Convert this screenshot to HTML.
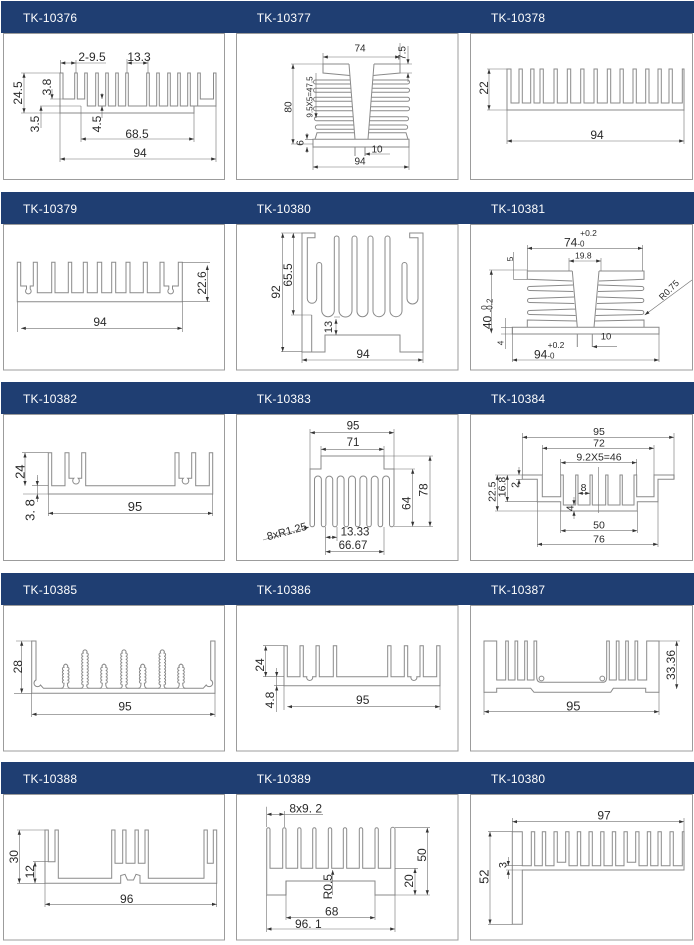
<!DOCTYPE html>
<html><head><meta charset="utf-8"><style>
html,body{margin:0;padding:0;background:#fff;}
svg{display:block}
.s{fill:none;stroke:#8a8a8a;stroke-width:1}
.w{fill:#fff;stroke:#8a8a8a;stroke-width:1}
.d{fill:none;stroke:#707070;stroke-width:.6}
.a{fill:none;stroke:#707070;stroke-width:.6;marker-start:url(#m);marker-end:url(#m)}
.e{fill:none;stroke:#707070;stroke-width:.6;marker-end:url(#m)}
text{font-family:"Liberation Sans",sans-serif;fill:#2a2a2a}
.l{font-size:12px;text-anchor:middle;dominant-baseline:central}
.k{font-size:13px;text-anchor:middle;dominant-baseline:central}
.p{font-size:10.5px;text-anchor:middle;dominant-baseline:central}
.m{font-size:10px;text-anchor:middle;dominant-baseline:central}
.n{font-size:8.5px;text-anchor:middle;dominant-baseline:central}
.h{font-size:12px;fill:#fff;letter-spacing:.2px}
.bx{fill:#fff;stroke:#9c9c9c;stroke-width:1}
.hd{fill:#1f3e72}
</style></head><body>
<svg width="694" height="945" viewBox="0 0 694 945" xmlns="http://www.w3.org/2000/svg">
<defs><marker id="m" viewBox="0 0 6 4" refX="6" refY="2" markerWidth="5" markerHeight="3.2" markerUnits="userSpaceOnUse" orient="auto-start-reverse"><path d="M0,0L6,2L0,4z" fill="#333"/></marker></defs>
<rect width="694" height="945" fill="#fff"/>

<!-- boxes -->
<rect class="bx" x="3.5" y="33.5" width="221" height="146"/>
<rect class="bx" x="236.5" y="33.5" width="221.5" height="146"/>
<rect class="bx" x="470.5" y="33.5" width="222" height="146"/>
<rect class="bx" x="3.5" y="224.5" width="221" height="145.5"/>
<rect class="bx" x="236.5" y="224.5" width="221.5" height="145.5"/>
<rect class="bx" x="470.5" y="224.5" width="222" height="145.5"/>
<rect class="bx" x="3.5" y="414.5" width="221" height="146"/>
<rect class="bx" x="236.5" y="414.5" width="221.5" height="146"/>
<rect class="bx" x="470.5" y="414.5" width="222" height="146"/>
<rect class="bx" x="3.5" y="605.5" width="221" height="145.5"/>
<rect class="bx" x="236.5" y="605.5" width="221.5" height="145.5"/>
<rect class="bx" x="470.5" y="605.5" width="222" height="145.5"/>
<rect class="bx" x="3.5" y="794.5" width="221" height="145.5"/>
<rect class="bx" x="236.5" y="794.5" width="221.5" height="145.5"/>
<rect class="bx" x="470.5" y="794.5" width="222" height="145.5"/>

<!-- headers -->
<rect class="hd" x="1" y="1" width="693" height="32"/>
<rect class="hd" x="1" y="192" width="693" height="32"/>
<rect class="hd" x="1" y="382" width="693" height="32"/>
<rect class="hd" x="1" y="573" width="693" height="32"/>
<rect class="hd" x="1" y="762" width="693" height="32"/>
<text class="h" x="23" y="22">TK-10376</text>
<text class="h" x="256.7" y="22">TK-10377</text>
<text class="h" x="491" y="22">TK-10378</text>
<text class="h" x="23" y="213">TK-10379</text>
<text class="h" x="256.7" y="213">TK-10380</text>
<text class="h" x="491" y="213">TK-10381</text>
<text class="h" x="23" y="403">TK-10382</text>
<text class="h" x="256.7" y="403">TK-10383</text>
<text class="h" x="491" y="403">TK-10384</text>
<text class="h" x="23" y="594">TK-10385</text>
<text class="h" x="256.7" y="594">TK-10386</text>
<text class="h" x="491" y="594">TK-10387</text>
<text class="h" x="23" y="783">TK-10388</text>
<text class="h" x="256.7" y="783">TK-10389</text>
<text class="h" x="491" y="783">TK-10380</text>

<!-- Cell 1 TK-10376 -->
<path class="s" d="M60,113 V73 H63 V99 H74.7 V73 H77.3 V99 H84.7 V73 H87.3 V106 H95.7 V73 H98.3 V106 H105.7 V73 H108.3 V106 H115.7 V73 H118.3 V106 H125.7 V73 H128.3 V106 H146.7 V73 H149.3 V106 H156.7 V73 H159.3 V106 H167.7 V73 H170.3 V106 H177.7 V73 H180.3 V106 H187.7 V73 H190.3 V106 H197.7 V73 H200.3 V99 H213.5 V73 H216 V106 H194 V113 Z"/>
<path class="d" d="M21,73H60 M21,113H60 M50,99H63 M40,106H81 M81,106V142 M194,113V142 M60,113V162 M216,106V162 M60.5,60V73 M76,60V73 M76,63H106 M127,59V73 M148,59V73"/>
<path class="a" d="M24,73V113"/>
<path class="e" d="M52,89V99"/>
<path class="e" d="M41,128V106"/>
<path class="e" d="M102,93V99"/>
<path class="e" d="M102,118V106"/>
<path class="a" d="M60.5,63H76"/>
<path class="a" d="M127,63H148"/>
<path class="a" d="M81,139H194"/>
<path class="a" d="M60,159H216"/>
<text class="l" transform="translate(18 93) rotate(-90)">24.5</text>
<text class="l" transform="translate(47 87) rotate(-90)">3.8</text>
<text class="l" transform="translate(35 124) rotate(-90)">3.5</text>
<text class="l" transform="translate(97 124) rotate(-90)">4.5</text>
<text class="l" x="92" y="57">2-9.5</text>
<text class="l" x="139" y="57">13.3</text>
<text class="l" x="137" y="134">68.5</text>
<text class="l" x="140" y="153">94</text>

<!-- Cell 2 TK-10377 -->
<path class="s" d="M349,64H323V73L349.9,75.5 M349,64L355,139.3 M350.3,80H315.5A2,2 0 0 0 315.5,84H350.6 M350.9,88.3H315.5A2,2 0 0 0 315.5,92.3H351.3 M351.7,97.3H315.5A2,2 0 0 0 315.5,101.3H352 M352.4,106.7H315.5A2,2 0 0 0 315.5,110.7H352.7 M353.2,116.7H316.5A2,2 0 0 0 316.5,120.7H353.5 M353.9,125H317.5A2.15,2.15 0 0 0 317.5,129.3H354.2 M354.5,132.7H317L315,139.3"/>
<path class="s" d="M374,64H400V73L373.1,75.5 M374,64L368,139.3 M372.7,80H407.5A2,2 0 0 1 407.5,84H372.4 M372.1,88.3H407.5A2,2 0 0 1 407.5,92.3H371.7 M371.3,97.3H407.5A2,2 0 0 1 407.5,101.3H371 M370.6,106.7H407.5A2,2 0 0 1 407.5,110.7H370.3 M369.8,116.7H406.5A2,2 0 0 1 406.5,120.7H369.5 M369.1,125H405.5A2.15,2.15 0 0 1 405.5,129.3H368.8 M368.5,132.7H406L408,139.3"/>
<path class="s" d="M313,139.3H409V147H313Z M355,147V156 M365,147V156"/>
<path class="d" d="M323,53V64 M400,43V64 M400,64H412 M400,73H412 M291,64H323 M291,144H313 M305,139.3H313 M313,147V170 M409,147V170"/>
<path class="a" d="M323,57H400"/>
<path class="e" d="M408,46V64"/>
<path class="e" d="M408,82V73"/>
<path class="a" d="M293,64V144"/>
<path class="e" d="M316,73V118"/>
<path class="e" d="M307,133V139.3"/>
<path class="e" d="M307,153V147"/>
<path class="a" d="M313,167H409"/>
<path class="e" d="M390,154H365"/>
<text class="m" x="360" y="49">74</text>
<text class="m" transform="translate(403 53) rotate(-90)">7.5</text>
<text class="m" transform="translate(289 107) rotate(-90)">80</text>
<text class="n" style="font-size:8px" transform="translate(310 97) rotate(-90)">9.5X5=47.5</text>
<text class="m" transform="translate(301 143) rotate(-90)">6</text>
<text class="m" x="377" y="150">10</text>
<text class="m" x="360" y="162">94</text>

<!-- Cell 3 TK-10378 -->
<path class="s" d="M507,110 V69 H511 V103 H519 V69 H522.3 V103 H530.7 V69 H534 V103 H540 V69 H543.3 V103 H554 V69 H557.3 V103 H567.3 V69 H570.7 V103 H580.7 V69 H584 V103 H594 V69 H597.3 V103 H607.3 V69 H610.7 V103 H620 V69 H623.3 V103 H633 V69 H636.3 V103 H645.7 V69 H649 V103 H658 V69 H661.3 V103 H669 V69 H672.3 V103 H682.3 V69 H684 V110 Z"/>
<path class="d" d="M487,69H507 M487,110H507 M507,110V144 M684,110V144"/>
<path class="a" d="M489,69V110"/>
<path class="a" d="M507,141H684"/>
<text class="l" transform="translate(484 88) rotate(-90)">22</text>
<text class="l" x="597" y="135">94</text>

<!-- Cell 4 TK-10379 -->
<path class="s" d="M17.3,301.7 V262.3 H20.7 V286 H26.5 V289 A2.8,2.8 0 1 0 30.2,289 V286 H33.3 V262.3 H37.3 V292.7 H51.7 V262.3 H55 V292.7 H68.3 V262.3 H71.7 V292.7 H83.3 V262.3 H87.3 V292.7 H97.3 V262.3 H101.7 V292.7 H111.7 V262.3 H115.7 V292.7 H126 V262.3 H130 V292.7 H143.3 V262.3 H147.3 V292.7 H160 V262.3 H164 V286 H168.8 V289 A2.8,2.8 0 1 0 172.5,289 V286 H178.3 V262.3 H182.3 V301.7 Z"/>
<path class="d" d="M182.3,262.3H210 M182.3,301.7H210 M17.3,301.7V332 M182.3,301.7V332"/>
<path class="a" d="M207.3,265.3V301.7"/>
<path class="a" d="M21,328.3H182.3"/>
<text class="l" transform="translate(202 283) rotate(-90)">22.6</text>
<text class="l" x="100" y="322">94</text>

<!-- Cell 5 TK-10380 -->
<path class="s" d="M302,352 V233 H315 V237.7 H307.3 V298.6 A4.7,4.7 0 0 0 316.7,298.6 V265 A2.5,2.5 0 0 1 321.7,265 V310.4 A6.3,6.3 0 0 0 334.3,310.4 V238.3 A2.35,2.35 0 0 1 339,238.3 V310.5 A6.5,6.5 0 0 0 352,310.5 V238.5 A2.5,2.5 0 0 1 357,238.5 V311.2 A5.5,5.5 0 0 0 368,311.2 V238.5 A2.5,2.5 0 0 1 373,238.5 V310.7 A6,6 0 0 0 385,310.7 V238.5 A2.5,2.5 0 0 1 390,238.5 V310.7 A6,6 0 0 0 402,310.7 V265 A2.5,2.5 0 0 1 407,265 V298.5 A5.5,5.5 0 0 0 418,298.5 V237.7 H409.7 V233 H423 V352 H400 V335 H325 V352 Z M311.7,315V352"/>
<path class="d" d="M281,233H302 M281,351.7H302 M291,315H311.7 M334,317H340 M302,352V363 M423,352V363"/>
<path class="a" d="M282.7,233V351.7"/>
<path class="a" d="M293.3,233V315"/>
<path class="a" d="M336,319V335"/>
<path class="a" d="M302,360H423"/>
<text class="l" transform="translate(276 292) rotate(-90)">92</text>
<text class="l" transform="translate(288 275) rotate(-90)">65.5</text>
<text class="l" style="font-size:11px" transform="translate(329 327) rotate(-90)">13</text>
<text class="l" x="363" y="354">94</text>

<!-- Cell 6 TK-10381 -->
<path class="s" d="M572.3,271H527.3V279.3L572.3,281 M572.3,271L577.3,327.3 M573,285L529.5,286.5A2,2 0 0 0 529.5,290.5L573.3,291.5 M574,297L529.5,298.5A2,2 0 0 0 529.5,302.5L574.3,303.5 M575.3,309L529.5,310.5A2,2 0 0 0 529.5,314.5L575.6,315.5 M576.5,321L527.3,320V327.3"/>
<path class="s" d="M599,271H644V279.3L599,281 M599,271L594,327.3 M598.3,285L641.8,286.5A2,2 0 0 1 641.8,290.5L598,291.5 M597.3,297L641.8,298.5A2,2 0 0 1 641.8,302.5L597,303.5 M596,309L641.8,310.5A2,2 0 0 1 641.8,314.5L595.7,315.5 M594.8,321L644,320V327.3"/>
<path class="s" d="M512.3,327.3H659V334H512.3Z M577.3,334V347 M592.3,334V347"/>
<path class="d" d="M527.3,245V271 M642.7,245V271 M569,258V271 M601,258V271 M513.3,252V279.3 M513.3,279.3H527.3 M489,270H527.3 M501,327.3H512.3 M501,334H512.3 M512.3,327.3V362 M659,334V362 M505.3,318V349"/>
<path class="a" d="M527.3,248.3H642.7"/>
<path class="a" d="M569,261H601"/>
<path class="a" d="M491.3,270V333.3"/>
<path class="a" d="M512.3,360H659"/>
<path class="e" d="M617,346.7H592.3"/>
<path class="e" d="M692,280L644.7,315"/>
<text class="n" x="588.5" y="233">+0.2</text>
<text x="564" y="246.5" style="font-size:12px">74<tspan style="font-size:8px">-0</tspan></text>
<text class="n" x="583.3" y="255.3">19.8</text>
<text class="n" transform="translate(510 259) rotate(-90)">5</text>
<text class="l" transform="translate(487.5 322.5) rotate(-90)">40</text>
<text class="n" style="font-size:8px" transform="translate(490 305.5) rotate(-90)">-0.2</text>
<text class="n" style="font-size:8px" transform="translate(484.5 307.5) rotate(-90)">0</text>
<text class="n" transform="translate(500.5 343) rotate(-90)">4</text>
<text class="n" x="556" y="345">+0.2</text>
<text x="534" y="358.5" style="font-size:12px">94<tspan style="font-size:8px">-0</tspan></text>
<text class="n" style="font-size:9.5px" x="606" y="337">10</text>
<text class="n" style="font-size:9px" transform="translate(669 290) rotate(-45)">R0.75</text>

<!-- Cell 7 TK-10382 -->
<path class="s" d="M48.3,494 V452.7 H51.7 V485.7 H65 V452.7 H69 V478.3 H73.8 A3.3,3.3 0 1 0 78.2,478.3 H81.7 V452.7 H85.7 V485.7 H175 V452.7 H179 V478.3 H183.3 A3.3,3.3 0 1 0 187.7,478.3 H191.7 V452.7 H195.7 V485.7 H209.3 V452.7 H212.7 V494 Z"/>
<path class="d" d="M22,452.7H48.3 M32,485.7H48.3 M23,494H48.3 M37.3,475V502 M48.3,494V516 M212.7,494V516"/>
<path class="a" d="M25,452.7V485.7"/>
<path class="e" d="M37.3,477V485.7"/>
<path class="e" d="M37.3,502V494"/>
<path class="a" d="M48.3,513.3H212.7"/>
<text class="k" transform="translate(20 471.7) rotate(-90)">24</text>
<text class="k" transform="translate(30 510) rotate(-90)">3. 8</text>
<text class="k" x="135" y="506.5">95</text>

<!-- Cell 8 TK-10383 -->
<path class="s" d="M310,524.5 V469 H321 V456 H384 V469 H394 V524.5 A2.25,2.25 0 0 1 389.5,524.5 V479.4 A3.43,3.43 0 0 0 382.64,479.4 V524.5 A2.25,2.25 0 0 1 378.14,524.5 V479.4 A3.43,3.43 0 0 0 371.29,479.4 V524.5 A2.25,2.25 0 0 1 366.79,524.5 V479.4 A3.43,3.43 0 0 0 359.93,479.4 V524.5 A2.25,2.25 0 0 1 355.43,524.5 V479.4 A3.43,3.43 0 0 0 348.57,479.4 V524.5 A2.25,2.25 0 0 1 344.07,524.5 V479.4 A3.43,3.43 0 0 0 337.21,479.4 V524.5 A2.25,2.25 0 0 1 332.71,524.5 V479.4 A3.43,3.43 0 0 0 325.86,479.4 V524.5 A2.25,2.25 0 0 1 321.36,524.5 V479.4 A3.43,3.43 0 0 0 314.5,479.4 V524.5 A2.25,2.25 0 0 1 310,524.5 Z"/>
<path class="d" d="M310,429V469 M394,429V469 M321,446V456 M384,446V456 M384,456H433 M394,469H415 M394,526.5H433 M325.5,527V555 M337,527V541 M384,527V555"/>
<path class="a" d="M310,432.7H394"/>
<path class="a" d="M321,449.3H384"/>
<path class="a" d="M430,456V526.5"/>
<path class="a" d="M412.7,469V526.5"/>
<path class="a" d="M325.5,537.3H337"/>
<path class="a" d="M325.5,551.7H384"/>
<path class="e" d="M263,540L309,527"/>
<text class="l" style="font-size:11.5px" x="353" y="426.5">95</text>
<text class="l" style="font-size:11.5px" x="353" y="443">71</text>
<text class="l" transform="translate(423.3 490) rotate(-90)">78</text>
<text class="l" transform="translate(406.5 503.3) rotate(-90)">64</text>
<text class="l" style="font-size:11px" transform="translate(287 532) rotate(-15)">8xR1.25</text>
<text class="l" style="font-size:11.5px" x="355" y="532.5">13.33</text>
<text class="l" style="font-size:11.5px" x="353" y="546">66.67</text>

<!-- Cell 9 TK-10384 -->
<path class="s" d="M522.3,475 H542.3 V496.7 H560.7 V475 H563.3 V505 H575.7 V475 H578 V505 H590 V475 H592.3 V505 H605.7 V475 H608 V505 H620 V475 H622.3 V505 H634 V475 H636.7 V496.7 H654 V475 H674 V479.3 H658 V501.7 H637.3 V511 H560.7 V501.7 H537.3 V479.3 H522.3 Z"/>
<path class="d" d="M522.3,433V475 M674,433V479 M542.3,445V475 M654,445V475 M560.7,459V475 M636.7,459V475 M598.3,467V513 M560.7,511V533 M637.3,511V533 M537.3,502V547 M658,502V547 M495,475H522.3 M495,511H560.7 M505,501.7H537.3 M516,479.3H522.3"/>
<path class="a" d="M522.3,437.3H674"/>
<path class="a" d="M542.3,448.3H654"/>
<path class="a" d="M560.7,462.7H636.7"/>
<path class="a" d="M560.7,530.7H637.3"/>
<path class="a" d="M537.3,544.3H658"/>
<path class="a" d="M497.3,475V511"/>
<path class="a" d="M507.3,475V501.7"/>
<path class="e" d="M519,467V475"/>
<path class="e" d="M519,487V479.3"/>
<path class="e" d="M574,497V505"/>
<path class="e" d="M574,519V511"/>
<path class="a" d="M578,493.3H590"/>
<text class="p" x="599" y="432">95</text>
<text class="p" x="599" y="443.3">72</text>
<text class="p" x="599" y="457.5">9.2X5=46</text>
<text class="p" x="599" y="525.7">50</text>
<text class="p" x="599" y="539.5">76</text>
<text class="p" transform="translate(492.3 491.7) rotate(-90)">22.5</text>
<text class="p" transform="translate(502.3 487) rotate(-90)">16.8</text>
<text class="p" transform="translate(515.5 485) rotate(-90)">2</text>
<text class="p" transform="translate(570.5 508.3) rotate(-90)">4</text>
<text class="p" x="583.5" y="488">8</text>

<!-- Cell 10 TK-10385 -->
<path class="s" d="M31.7,693.3 V641 H36 V680 A3.5,3.5 0 1 0 40.5,685 L43.5,688.3 H203.2 L206.2,685 A3.5,3.5 0 1 0 210.7,680 V641 H215 V693.3 Z"/>
<path class="w" d="M80.8,688.3 q2.5,0 2.5,-3.3 a1.6,1.6 0 0 1 0,-3.2 a1.6,1.6 0 0 1 0,-3.2 a1.6,1.6 0 0 1 0,-3.2 a1.6,1.6 0 0 1 0,-3.2 a1.6,1.6 0 0 1 0,-3.2 a1.6,1.6 0 0 1 0,-3.2 a1.6,1.6 0 0 1 0,-3.2 a1.6,1.6 0 0 1 0,-3.2 a1.6,1.6 0 0 1 0,-3.2 a1.6,1.6 0 0 1 0,-3.2 a2,2 0 1 1 3.4,0 a1.6,1.6 0 0 1 0,3.2 a1.6,1.6 0 0 1 0,3.2 a1.6,1.6 0 0 1 0,3.2 a1.6,1.6 0 0 1 0,3.2 a1.6,1.6 0 0 1 0,3.2 a1.6,1.6 0 0 1 0,3.2 a1.6,1.6 0 0 1 0,3.2 a1.6,1.6 0 0 1 0,3.2 a1.6,1.6 0 0 1 0,3.2 a1.6,1.6 0 0 1 0,3.2 q0,3.3 2.5,3.3"/>
<path class="w" d="M119.8,688.3 q2.5,0 2.5,-3.3 a1.6,1.6 0 0 1 0,-3.2 a1.6,1.6 0 0 1 0,-3.2 a1.6,1.6 0 0 1 0,-3.2 a1.6,1.6 0 0 1 0,-3.2 a1.6,1.6 0 0 1 0,-3.2 a1.6,1.6 0 0 1 0,-3.2 a1.6,1.6 0 0 1 0,-3.2 a1.6,1.6 0 0 1 0,-3.2 a1.6,1.6 0 0 1 0,-3.2 a1.6,1.6 0 0 1 0,-3.2 a2,2 0 1 1 3.4,0 a1.6,1.6 0 0 1 0,3.2 a1.6,1.6 0 0 1 0,3.2 a1.6,1.6 0 0 1 0,3.2 a1.6,1.6 0 0 1 0,3.2 a1.6,1.6 0 0 1 0,3.2 a1.6,1.6 0 0 1 0,3.2 a1.6,1.6 0 0 1 0,3.2 a1.6,1.6 0 0 1 0,3.2 a1.6,1.6 0 0 1 0,3.2 a1.6,1.6 0 0 1 0,3.2 q0,3.3 2.5,3.3"/>
<path class="w" d="M158.1,688.3 q2.5,0 2.5,-3.3 a1.6,1.6 0 0 1 0,-3.2 a1.6,1.6 0 0 1 0,-3.2 a1.6,1.6 0 0 1 0,-3.2 a1.6,1.6 0 0 1 0,-3.2 a1.6,1.6 0 0 1 0,-3.2 a1.6,1.6 0 0 1 0,-3.2 a1.6,1.6 0 0 1 0,-3.2 a1.6,1.6 0 0 1 0,-3.2 a1.6,1.6 0 0 1 0,-3.2 a1.6,1.6 0 0 1 0,-3.2 a2,2 0 1 1 3.4,0 a1.6,1.6 0 0 1 0,3.2 a1.6,1.6 0 0 1 0,3.2 a1.6,1.6 0 0 1 0,3.2 a1.6,1.6 0 0 1 0,3.2 a1.6,1.6 0 0 1 0,3.2 a1.6,1.6 0 0 1 0,3.2 a1.6,1.6 0 0 1 0,3.2 a1.6,1.6 0 0 1 0,3.2 a1.6,1.6 0 0 1 0,3.2 a1.6,1.6 0 0 1 0,3.2 q0,3.3 2.5,3.3"/>
<path class="w" d="M61.5,688.3 q2.5,0 2.5,-5 a1.6,1.6 0 0 1 0,-3.2 a1.6,1.6 0 0 1 0,-3.2 a1.6,1.6 0 0 1 0,-3.2 a1.6,1.6 0 0 1 0,-3.2 a1.6,1.6 0 0 1 0,-3.2 a2,2 0 1 1 3.4,0 a1.6,1.6 0 0 1 0,3.2 a1.6,1.6 0 0 1 0,3.2 a1.6,1.6 0 0 1 0,3.2 a1.6,1.6 0 0 1 0,3.2 a1.6,1.6 0 0 1 0,3.2 q0,5 2.5,5"/>
<path class="w" d="M99.8,688.3 q2.5,0 2.5,-5 a1.6,1.6 0 0 1 0,-3.2 a1.6,1.6 0 0 1 0,-3.2 a1.6,1.6 0 0 1 0,-3.2 a1.6,1.6 0 0 1 0,-3.2 a1.6,1.6 0 0 1 0,-3.2 a2,2 0 1 1 3.4,0 a1.6,1.6 0 0 1 0,3.2 a1.6,1.6 0 0 1 0,3.2 a1.6,1.6 0 0 1 0,3.2 a1.6,1.6 0 0 1 0,3.2 a1.6,1.6 0 0 1 0,3.2 q0,5 2.5,5"/>
<path class="w" d="M138.5,688.3 q2.5,0 2.5,-5 a1.6,1.6 0 0 1 0,-3.2 a1.6,1.6 0 0 1 0,-3.2 a1.6,1.6 0 0 1 0,-3.2 a1.6,1.6 0 0 1 0,-3.2 a1.6,1.6 0 0 1 0,-3.2 a2,2 0 1 1 3.4,0 a1.6,1.6 0 0 1 0,3.2 a1.6,1.6 0 0 1 0,3.2 a1.6,1.6 0 0 1 0,3.2 a1.6,1.6 0 0 1 0,3.2 a1.6,1.6 0 0 1 0,3.2 q0,5 2.5,5"/>
<path class="w" d="M176.8,688.3 q2.5,0 2.5,-5 a1.6,1.6 0 0 1 0,-3.2 a1.6,1.6 0 0 1 0,-3.2 a1.6,1.6 0 0 1 0,-3.2 a1.6,1.6 0 0 1 0,-3.2 a1.6,1.6 0 0 1 0,-3.2 a2,2 0 1 1 3.4,0 a1.6,1.6 0 0 1 0,3.2 a1.6,1.6 0 0 1 0,3.2 a1.6,1.6 0 0 1 0,3.2 a1.6,1.6 0 0 1 0,3.2 a1.6,1.6 0 0 1 0,3.2 q0,5 2.5,5"/>
<path class="d" d="M16,641H31.7 M14,693.3H31.7 M31.7,693.3V717 M215,693.3V717"/>
<path class="a" d="M21.7,641V693.3"/>
<path class="a" d="M31.7,714.3H215"/>
<text class="l" transform="translate(18 666.7) rotate(-90)">28</text>
<text class="l" x="125" y="706.5">95</text>

<!-- Cell 11 TK-10386 -->
<path class="s" d="M284,685.7 V645.7 H287.3 V676.7 H300 V645.7 H303.3 V676.7 H306.8 A3,3 0 1 0 312.6,676.7 H316 V645.7 H319.3 V676.7 H333.3 V645.7 H336.7 V676.7 H387.7 V645.7 H391 V676.7 H404.3 V645.7 H407.7 V676.7 H411 A3,3 0 1 0 416.8,676.7 H420 V645.7 H423.3 V676.7 H436.7 V645.7 H440 V685.7 Z"/>
<path class="d" d="M263,645.7H284 M263,676.7H284 M274,685.7H284 M276.7,672V712 M284,685.7V710 M440,685.7V710"/>
<path class="a" d="M265.7,645.7V676.7"/>
<path class="e" d="M276.7,668V676.7"/>
<path class="e" d="M276.7,695V685.7"/>
<path class="a" d="M287.3,706.7H440"/>
<text class="l" transform="translate(260 665) rotate(-90)">24</text>
<text class="l" transform="translate(270 700) rotate(-90)">4.8</text>
<text class="l" x="362.7" y="700">95</text>

<!-- Cell 12 TK-10387 -->
<path class="s" d="M484,692.3 V641 H496.7 V680 H505.7 V641 H508.3 V680 H515 V641 H517.7 V680 H524.7 V641 H527.3 V680 H534 V641 H536.7 V677 Q536.7,682.3 541,682.3 H603 Q606.7,682.3 606.7,677 V641 H609.3 V680 H616.3 V641 H619 V680 H625.7 V641 H628.3 V680 H635 V641 H637.7 V680 H646.7 V641 H659 V692.3 H645.7 V688.3 H613.3 L610.7,692.3 H534 L530.7,688.3 H496.7 V692.3 Z"/>
<circle class="s" cx="541.5" cy="678.5" r="2.4"/>
<circle class="s" cx="602.3" cy="678.5" r="2.4"/>
<path class="d" d="M659,641H680 M484,692.3V715 M659,692.3V715"/>
<path class="a" d="M676.7,641V689"/>
<path class="a" d="M484,711.7H659"/>
<text class="l" transform="translate(671 665) rotate(-90)">33.36</text>
<text class="k" x="573.3" y="706">95</text>

<!-- Cell 13 TK-10388 -->
<path class="s" d="M45,883.3 V830 H48.3 V861.7 H55 V830 H58.3 V878.3 H111.7 V830 H115 V863.3 H122.7 V830 H126 V863.3 H135 V830 H138.3 V863.3 H145 V830 H148.3 V878.3 H204 V830 H207.3 V863.3 H213.3 V830 H216.7 V883.3 H140 V875.5 L136,874.3 L133.5,880 H127.5 L125,874.3 L120.7,875.5 V883.3 Z"/>
<path class="d" d="M17,830H45 M33,861.7H48.3 M17,883.3H45 M45,883.3V907 M216.7,883.3V907"/>
<path class="a" d="M19.3,830V883.3"/>
<path class="a" d="M35,861.7V883.3"/>
<path class="a" d="M45,904.3H216.7"/>
<text class="l" transform="translate(14 856.7) rotate(-90)">30</text>
<text class="l" transform="translate(30 871.7) rotate(-90)">12</text>
<text class="l" x="126.7" y="899">96</text>

<!-- Cell 14 TK-10389 -->
<path class="s" d="M266.7,895 V829.4 A1.65,1.65 0 0 1 270,829.4 V868.3 H282.7 V829.4 A1.65,1.65 0 0 1 286,829.4 V868.3 H297.7 V829.4 A1.65,1.65 0 0 1 301,829.4 V868.3 H312.7 V829.4 A1.65,1.65 0 0 1 316,829.4 V868.3 H328.3 V829.4 A1.7,1.7 0 0 1 331.7,829.4 V868.3 H343.3 V829.4 A1.7,1.7 0 0 1 346.7,829.4 V868.3 H359.3 V829.4 A1.7,1.7 0 0 1 362.7,829.4 V868.3 H375 V829.4 A1.65,1.65 0 0 1 378.3,829.4 V868.3 H390.7 V829.4 A2.15,2.15 0 0 1 395,829.4 V895 H375 V881 H286 V895 Z"/>
<path class="d" d="M266.7,806.7V827 M284.3,811V827 M284.3,814.3H323 M395,827.7H430 M395,895H430 M395,868.3H418 M266.7,895V932 M395,895V932 M286,881V920 M375,895V920"/>
<path class="a" d="M266.7,814.3H284.3"/>
<path class="a" d="M427.3,827.7V895"/>
<path class="a" d="M415,868.3V895"/>
<path class="e" d="M332.7,895V870"/>
<path class="a" d="M286,917.7H375"/>
<path class="a" d="M266.7,929H395"/>
<text class="l" x="305.7" y="808.5">8x9. 2</text>
<text class="l" transform="translate(422 855) rotate(-90)">50</text>
<text class="l" transform="translate(409 881) rotate(-90)">20</text>
<text class="l" transform="translate(328 886.7) rotate(-90)">R0.5</text>
<text class="l" x="331.7" y="911.5">68</text>
<text class="l" x="308.3" y="924">96. 1</text>

<!-- Cell 15 TK-10380 -->
<path class="s" d="M512.3,924.3 V831.7 H522.3 V865.7 H531.3 V831.7 H534.7 V865.7 H542.3 V831.7 H545.7 V865.7 H554 V831.7 H557.3 V862.3 H565.7 V831.7 H569 V865.7 H577.3 V831.7 H580.7 V865.7 H589 V831.7 H592.3 V865.7 H600.7 V831.7 H604 V865.7 H612.3 V831.7 H615.7 V865.7 H624 V831.7 H627.3 V862.3 H635.7 V831.7 H639 V865.7 H647.3 V831.7 H650.7 V865.7 H658 V831.7 H661.3 V865.7 H670 V831.7 H673.3 V865.7 H682.3 V831.7 H684 V870 H522.3 V924.3 Z"/>
<path class="d" d="M512.3,818V831.7 M684,818V831.7 M488,831.7H512.3 M488,924.3H512.3 M506,865.7H522.3 M506,870H522.3"/>
<path class="a" d="M512.3,821.7H684"/>
<path class="a" d="M490,831.7V924.3"/>
<path class="e" d="M508.3,857V865.7"/>
<path class="e" d="M508.3,879V870"/>
<text class="l" x="604" y="815.5">97</text>
<text class="k" transform="translate(484 876.7) rotate(-90)">52</text>
<text class="l" style="font-size:11px" transform="translate(503.5 865) rotate(-90)">3</text>
</svg>
</body></html>
